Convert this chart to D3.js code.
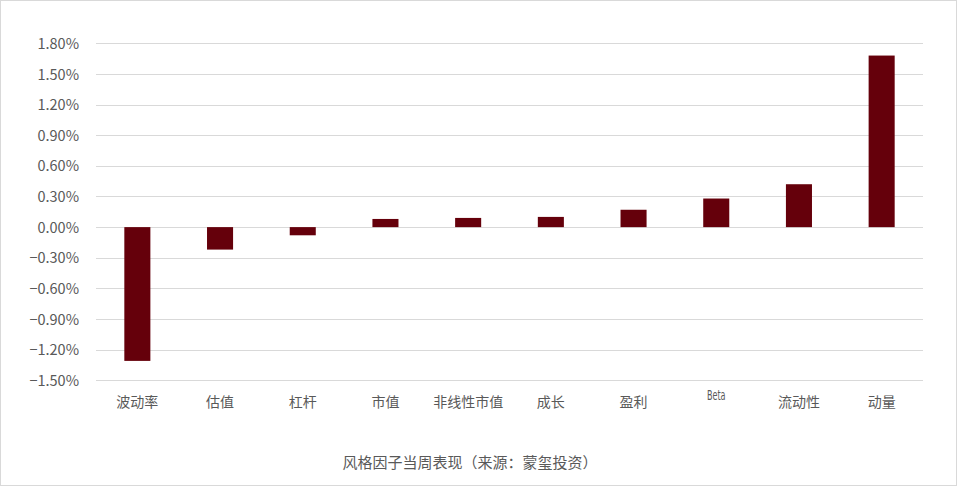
<!DOCTYPE html>
<html>
<head>
<meta charset="utf-8">
<script src="https://cdn.jsdelivr.net/npm/d3@7"></script>
<style>
	body { margin: 0; background: #fff; }
	svg text { font-family: "Noto Sans CJK SC", "Noto Sans", sans-serif; fill: #595959; }
</style>
</head>
<body>
<div id="chart"></div>
<script>
var categories = ["波动率", "估值", "杠杆", "市值", "非线性市值", "成长", "盈利", "Beta", "流动性", "动量"];
var values = [-1.31, -0.22, -0.08, 0.08, 0.09, 0.10, 0.17, 0.28, 0.42, 1.68];
var tickValues = [-1.5, -1.2, -0.9, -0.6, -0.3, 0, 0.3, 0.6, 0.9, 1.2, 1.5, 1.8];
var title = "风格因子当周表现（来源：蒙玺投资）";

var width = 957;
var height = 487;

var svg = d3.select("#chart").append("svg")
	.attr("width", width)
	.attr("height", height);

// outer frame
svg.append("rect")
	.attr("x", 0.5)
	.attr("y", 0.5)
	.attr("width", width - 1)
	.attr("height", height - 2)
	.attr("fill", "#fff")
	.attr("stroke", "#d9d9d9");

var x = d3.scaleBand()
	.domain(categories)
	.range([96, 923])
	.paddingInner(0.685)
	.paddingOuter(0.3425);

var y = d3.scaleLinear()
	.domain([-1.5, 1.8])
	.range([380.3, 43.3]);

// gridlines
svg.append("g")
	.selectAll("line")
	.data(tickValues)
	.enter().append("line")
	.attr("x1", 96)
	.attr("x2", 923)
	.attr("y1", function(d) { return Math.round(y(d)) + 0.5; })
	.attr("y2", function(d) { return Math.round(y(d)) + 0.5; })
	.attr("stroke", "#d9d9d9")
	.attr("stroke-width", 1);

// y axis labels
var yAxis = d3.axisLeft(y)
	.tickValues(tickValues)
	.tickSize(0)
	.tickPadding(0)
	.tickFormat(function(d) { return d3.format(".2f")(d) + "%"; });

var yg = svg.append("g")
	.attr("transform", "translate(79,0)")
	.call(yAxis);
yg.select(".domain").remove();
yg.selectAll("text")
	.style("font-size", "14.5px")
	.attr("dy", "0.35em");

// bars
svg.append("g")
	.selectAll("rect")
	.data(values)
	.enter().append("rect")
	.attr("x", function(d, i) { return x(categories[i]); })
	.attr("width", x.bandwidth())
	.attr("y", function(d) { return y(Math.max(0, d)); })
	.attr("height", function(d) { return Math.abs(y(d) - y(0)); })
	.attr("fill", "#65000b");

// x labels
var xAxis = d3.axisBottom(x).tickSize(0).tickPadding(0);
var xg = svg.append("g")
	.attr("transform", "translate(0,402)")
	.call(xAxis);
xg.select(".domain").remove();
xg.selectAll("text")
	.attr("dy", "0.35em")
	.style("font-size", "14px")
	.each(function(d) {
		if(d === "Beta") {
			// narrow display face in the source
			d3.select(this)
				.attr("y", -6)
				.attr("dy", "0.35em")
				.style("font-family", "'DejaVu Sans Condensed', 'Liberation Sans Narrow', sans-serif")
				.style("font-size", "12px")
				.attr("transform", "scale(0.75,1.15)");
		}
	});

// title
svg.append("text")
	.attr("x", 470)
	.attr("y", 463)
	.attr("dy", "0.35em")
	.attr("text-anchor", "middle")
	.style("font-size", "15px")
	.text(title);
</script>
</body>
</html>
